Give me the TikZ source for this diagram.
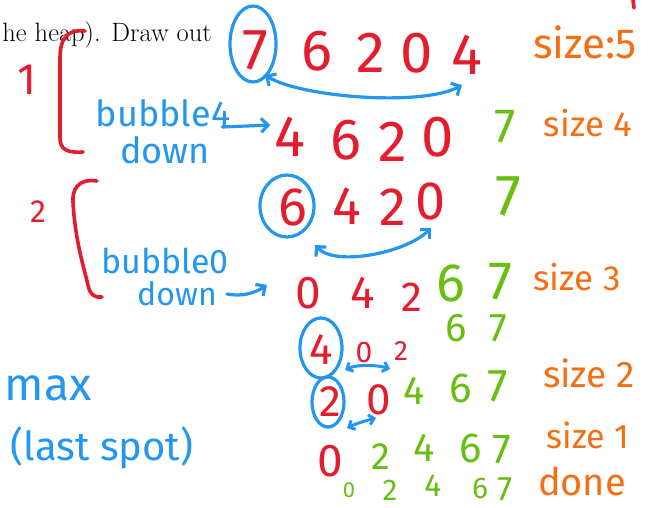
\documentclass[tikz,border=0pt]{standalone}
\usepackage{fontspec}
\newfontfamily\hand{Fira Sans}
\usetikzlibrary{arrows.meta}
\definecolor{hred}{RGB}{228,28,45}
\definecolor{hblue}{RGB}{35,150,240}
\definecolor{hgreen}{RGB}{105,190,20}
\definecolor{horange}{RGB}{245,110,20}
\tikzset{
 fsz/.style={font=\hand\fontsize{#1}{#1}\selectfont},
 rd/.style={text=hred, inner sep=0pt, fsz=#1},
 gd/.style={text=hgreen, inner sep=0pt, fsz=#1},
 bt/.style={text=hblue, inner sep=0pt, fsz=#1},
 ot/.style={text=horange, inner sep=0pt, fsz=#1},
 ring/.style={draw=hblue, line width=3.2pt},
 brk/.style={draw=hred, line width=3.6pt, line cap=round, line join=round},
 barb/.style={draw=hblue, line width=3.2pt, line cap=round, -{Straight Barb[length=7pt,width=14pt]}},
 dbarb/.style={draw=hblue, line width=3.2pt, line cap=round, {Straight Barb[length=7pt,width=14pt]}-{Straight Barb[length=7pt,width=14pt]}},
 sdbarb/.style={draw=hblue, line width=3pt, line cap=round, {Straight Barb[length=5pt,width=10pt]}-{Straight Barb[length=5pt,width=10pt]}},
}
\begin{document}
\begin{tikzpicture}[x=1pt,y=-1pt]
\useasboundingbox (0,0) rectangle (654,508);
% header text
\node[anchor=base east, inner sep=0pt, font=\fontsize{26.5}{26.5}\selectfont] (hdr) at (212,42) {he heap). Draw out};
% step 1
\node[rd=44] (n1) at (27,80) {1};
\draw[brk] (85,31) .. controls (64,29) and (60,42) .. (60,60) -- (60,138) .. controls (60,150) and (68,153) .. (83,152);
\node[rd=58] (r1a) at (255,50) {7};
\node[rd=58] (r1b) at (317,51) {6};
\node[rd=58] (r1c) at (371,53) {2};
\node[rd=58] (r1d) at (417,53) {0};
\node[rd=58] (r1e) at (467,55) {4};
\draw[ring] ([shift={(-2,-6)}]r1a.center) ellipse[x radius=23, y radius=38];
\node[ot=42] (s5) at (585,42) {size:5};
\draw[brk] (633,0) -- (634,8);
\draw[dbarb] ([shift={(10,25)}]r1a.center) .. controls +(35,22) and +(-40,22) .. ([shift={(-5,30)}]r1e.center);
\node[bt=36] (b1) at (163,113) {bubble4};
\node[bt=36] (b1d) at (165,150) {down};
\node[rd=58] (r2a) at (290,137) {4};
\node[rd=58] (r2b) at (346,140) {6};
\node[rd=58] (r2c) at (393,142) {2};
\node[rd=58] (r2d) at (438,137) {0};
\node[gd=48] (r2e) at (505,127) {7};
\node[ot=35] (s4) at (588,123) {size 4};
\draw[barb] ([shift={(-8,14)}]b1.east) -- ([shift={(-4,-12)}]r2a.west);
% step 2
\node[rd=32] (n2) at (38,212) {2};
\draw[brk] (97,181) .. controls (78,178) and (72,190) .. (73,202) .. controls (75,240) and (84,268) .. (88,285) .. controls (90,295) and (95,298) .. (102,297);
\node[rd=54] (r3a) at (293,207) {6};
\draw[ring] ([shift={(-6,-1)}]r3a.center) ellipse[x radius=27, y radius=31];
\node[rd=54] (r3b) at (347,206) {4};
\node[rd=54] (r3c) at (393,207) {2};
\node[rd=54] (r3d) at (431,201) {0};
\node[gd=58] (r3e) at (508,196) {7};
\draw[dbarb] ([shift={(22,38)}]r3a.center) .. controls +(20,22) and +(-25,25) .. ([shift={(0,27)}]r3d.center);
\node[bt=34] (b2) at (165,261) {bubble0};
\node[bt=32] (b2d) at (177,294) {down};
\node[rd=46] (r4a) at (308,293) {0};
\node[rd=46] (r4b) at (363,293) {4};
\node[rd=42] (r4c) at (412,297) {2};
\node[gd=54] (r4d) at (451,283) {6};
\node[gd=54] (r4e) at (500,282) {7};
\node[ot=35] (s3) at (577,277) {size 3};
\draw[barb] ([xshift=10]b2d.east) .. controls +(15,3) and +(-12,8) .. ([shift={(-28,-8)}]r4a.west);
% step 3
\node[rd=44] (r5a) at (321,350) {4};
\draw[ring] ([shift={(0,-2)}]r5a.center) ellipse[x radius=21, y radius=30];
\node[rd=30] (r5b) at (364,352) {0};
\node[rd=28] (r5c) at (401,351) {2};
\node[gd=40] (r5d) at (456,328) {6};
\node[gd=40] (r5e) at (498,328) {7};
\draw[sdbarb] ([shift={(24,20)}]r5a.center) .. controls +(12,-6) and +(-12,-4) .. ([shift={(-11,18)}]r5c.center);
% step 4
\node[rd=44] (r6a) at (330,402) {2};
\draw[ring] ([shift={(-2,0)}]r6a.center) ellipse[x radius=16, y radius=25];
\node[rd=44] (r6b) at (379,400) {0};
\node[gd=40] (r6c) at (414,391) {4};
\node[gd=42] (r6d) at (461,388) {6};
\node[gd=46] (r6e) at (498,386) {7};
\node[ot=37] (s2) at (589,373) {size 2};
\draw[sdbarb] ([shift={(17,26)}]r6a.center) .. controls +(8,-4) and +(-8,2) .. ([shift={(-3,18)}]r6b.center);
% step 5
\node[rd=46] (r7a) at (330,461) {0};
\node[gd=38] (r7b) at (381,457) {2};
\node[gd=40] (r7c) at (424,448) {4};
\node[gd=42] (r7d) at (471,448) {6};
\node[gd=42] (r7e) at (502,450) {7};
\node[ot=34] (s1) at (588,435) {size 1};
% done
\node[gd=22] (r8a) at (349,490) {0};
\node[gd=30] (r8b) at (390,490) {2};
\node[gd=32] (r8c) at (433,486) {4};
\node[gd=30] (r8d) at (480,488) {6};
\node[gd=34] (r8e) at (505,489) {7};
\node[ot=38] (dn) at (582,481) {done};
% left notes
\node[bt=46] (mx) at (48,388) {max};
\node[bt=40] (ls) at (102,448) {(last spot)};
\end{tikzpicture}
\end{document}
